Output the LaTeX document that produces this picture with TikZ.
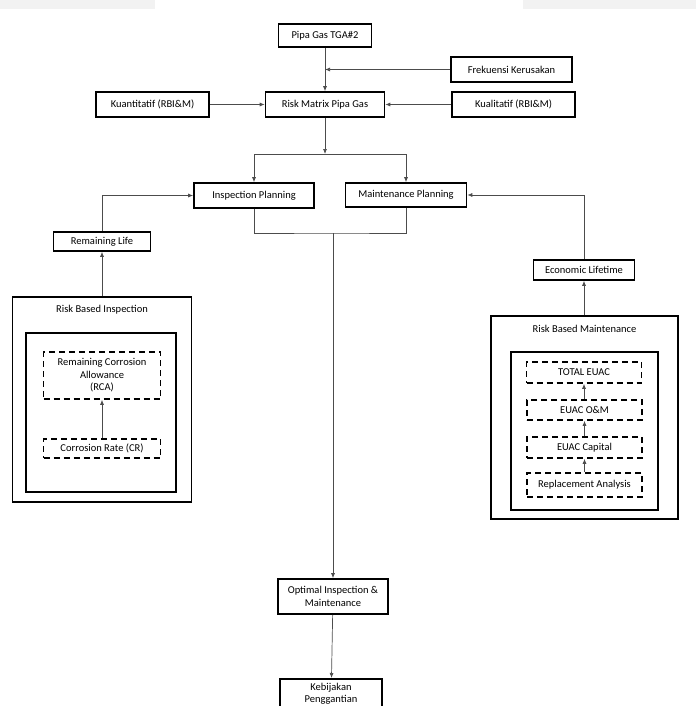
\documentclass[tikz,border=0pt]{standalone}
\usepackage{fontspec}
\setmainfont{Carlito}
\usetikzlibrary{arrows.meta, positioning}
\tikzset{>={Latex[length=5pt,width=4pt]}, % small filled heads
every node/.style={font=\fontsize{10.5}{12.6}\selectfont, inner sep=1pt},
box/.style={draw, line width=1.6pt, align=center}, % solid boxes
dbox/.style={draw, line width=1.6pt, dash pattern=on 6pt off 4pt, align=center}, % dashed boxes
frame/.style={draw, line width=1.4pt},
link/.style={draw=black!70, line width=0.7pt},
}

\begin{document}
\begin{tikzpicture}[x=1pt, y=-1pt]
    \useasboundingbox (0,0) rectangle (696,706);
    \clip (0,0) rectangle (696,706);
    % strip cut from the page above
    \fill[black!5] (0,0) rectangle (155,9);
    \fill[black!5] (523,0) rectangle (696,9);

    % top row
    \node[box, minimum width=93pt, minimum height=23pt] (pipa) at (325,35.5) {Pipa Gas TGA\#2};
    \node[box, minimum width=121pt, minimum height=25pt] (frek) at (511.5,69.5) {Frekuensi Kerusakan};
    \node[box, minimum width=113pt, minimum height=25pt] (kuan) at (152.5,104.5) {Kuantitatif (RBI\&M)};
    \node[box, minimum width=119pt, minimum height=25pt] (risk) at (325,104.5) {Risk Matrix Pipa Gas};
    \node[box, minimum width=123pt, minimum height=25pt] (kual) at (513.5,104.5) {Kualitatif (RBI\&M)};

    % planning
    \coordinate (split) at (325,154);
    \node[box, minimum width=120pt, minimum height=25pt] (insp) at (254,195.5) {Inspection Planning};
    \node[box, minimum width=121pt, minimum height=24pt] (maint) at (406,195) {Maintenance Planning};
    \coordinate (join) at (333,233);

    % left side
    \node[box, minimum width=97pt, minimum height=19pt] (remlife) at (102,241.5) {Remaining Life};
    \node[frame, minimum width=179pt, minimum height=205pt] (rbi) at (102,399.5) {};
    \node (rbititle) at (102,310) {Risk Based Inspection};
    \node[frame, minimum width=150pt, minimum height=159pt] (rbiin) at (101,412.5) {};
    \node[dbox, minimum width=117pt, minimum height=47pt] (rca) at (102,375.5) {Remaining Corrosion\\Allowance\\(RCA)};
    \node[dbox, minimum width=117pt, minimum height=19pt] (cr) at (102,448.5) {Corrosion Rate (CR)};

    % right side
    \node[box, minimum width=101pt, minimum height=20pt] (econ) at (584,270) {Economic Lifetime};
    \node[frame, minimum width=187pt, minimum height=203pt] (rbm) at (584.5,417.5) {};
    \node (rbmtitle) at (584.5,329) {Risk Based Maintenance};
    \node[frame, minimum width=147pt, minimum height=158pt] (rbmin) at (584.5,431) {};
    \node[dbox, minimum width=115pt, minimum height=21pt] (total) at (584,372.5) {TOTAL EUAC};
    \node[dbox, minimum width=115pt, minimum height=20pt] (om) at (584.5,410) {EUAC O\&M};
    \node[dbox, minimum width=115pt, minimum height=21pt] (capital) at (584.5,447.5) {EUAC Capital};
    \node[dbox, minimum width=115pt, minimum height=24pt] (repl) at (584.5,485) {Replacement Analysis};

    % bottom
    \node[box, minimum width=110pt, minimum height=35pt] (opt) at (333,596.5) {Optimal Inspection \&\\Maintenance};
    \node[box, anchor=north, minimum width=102pt, minimum height=50pt, inner sep=3pt, text depth=22pt] (keb) at (331,678) {Kebijakan\\Penggantian};

    % connectors
    \draw[link, ->] (pipa) -- (risk);
    \draw[link, ->] (frek) -- (frek.west -| pipa.south);
    \draw[link, ->] (kuan) -- (risk);
    \draw[link, ->] (kual) -- (risk);
    \draw[link, ->] (risk) -- (split);
    \draw[link, ->] (split) -| (insp);
    \draw[link, ->] (split) -| (maint);
    \draw[link] (insp.south) |- (join) -| (maint.south);
    \draw[link, ->] (join) -- (opt);
    \draw[link, ->] (opt) -- (keb);
    \draw[link, ->] (rbi.north -| remlife) -- (remlife);
    \draw[link, ->] (remlife.north) |- (insp.west);
    \draw[link, ->] (rbm.north -| econ) -- (econ);
    \draw[link, ->] (econ.north) |- (maint.east);
    \draw[link, ->] (cr) -- (rca);
    \draw[link, ->] (repl.north -| capital) -- (capital.south);
    \draw[link, ->] (capital.north -| om) -- (om.south);
    \draw[link, ->] (om.north -| total) -- (total.south);
\end{tikzpicture}
\end{document}
